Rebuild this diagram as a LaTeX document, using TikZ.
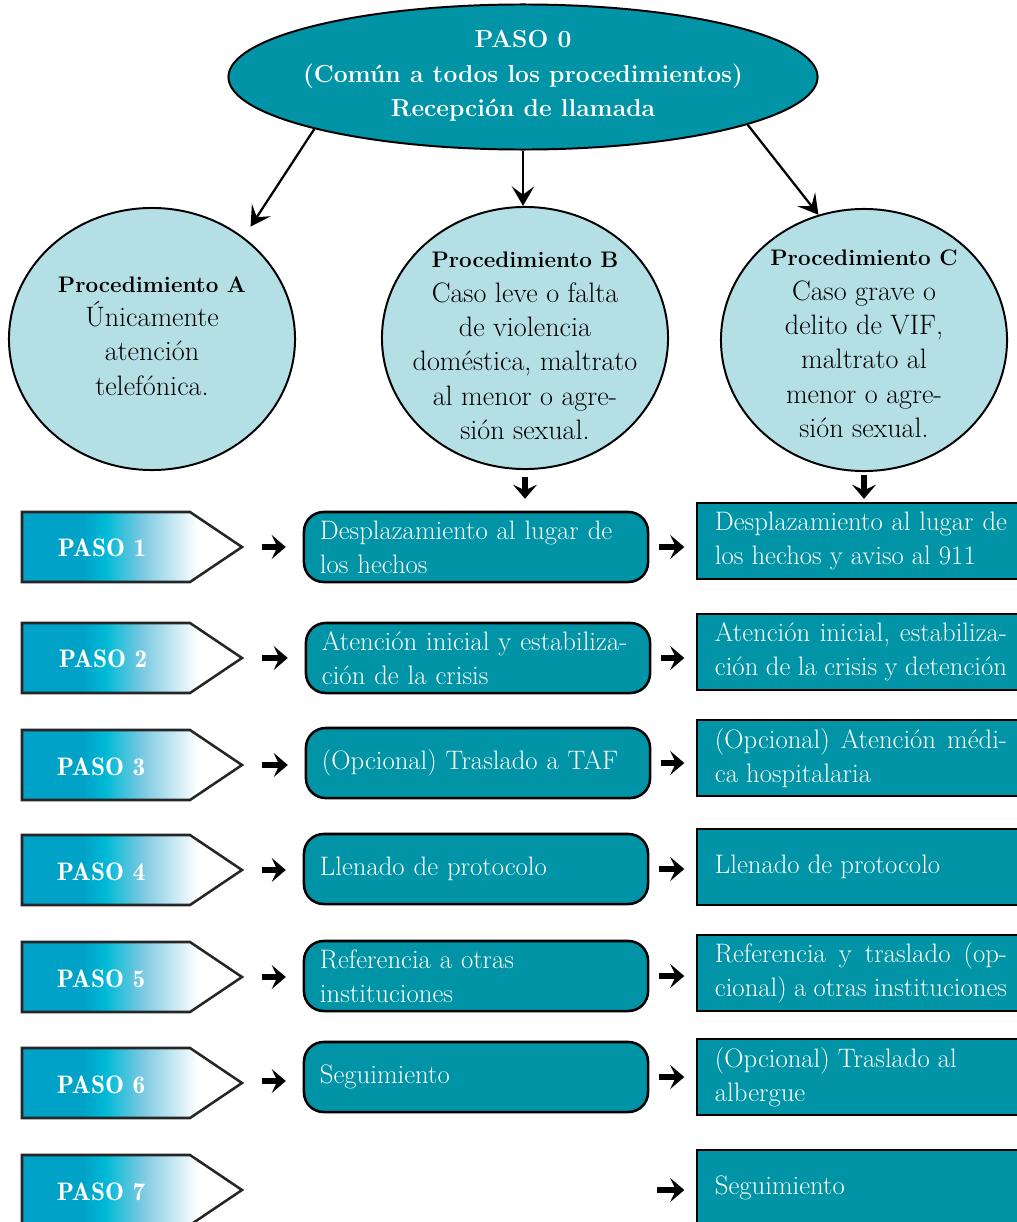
\documentclass[tikz,border=0pt]{standalone}
\usepackage{tikz}
\usetikzlibrary{arrows.meta,calc,shapes.geometric}
\definecolor{tealbox}{RGB}{0,148,166}
\definecolor{lightcirc}{RGB}{179,223,229}
\definecolor{pasodark}{RGB}{0,162,200}
\definecolor{pasomid}{RGB}{0,186,214}
\definecolor{pasolight}{RGB}{120,200,225}
\pgfdeclarehorizontalshading{pasoshade}{100bp}{color(0bp)=(pasodark); color(25bp)=(pasodark); color(39bp)=(pasodark); color(44bp)=(pasomid); color(52bp)=(pasolight); color(65bp)=(white); color(100bp)=(white)}

\begin{document}
\begin{tikzpicture}[x=0.025cm,y=-0.025cm]
\tikzstyle{elipse}=[ellipse,draw=black,line width=1.4pt,fill=tealbox,minimum width=14.725cm,minimum height=3.625cm,inner sep=0pt]
\tikzstyle{elltext}=[align=center,text=white,font=\bfseries\fontsize{17.5}{24.5}\selectfont]
\tikzstyle{circulo}=[ellipse,draw=black,line width=1.4pt,fill=lightcirc,minimum width=7.15cm,minimum height=6.55cm,inner sep=0pt]
\tikzstyle{circtext}=[align=center,font=\fontsize{20}{24.5}\selectfont]
\tikzstyle{caja}=[draw=black,line width=1.8pt,fill=tealbox,rounded corners=14pt,text=white,align=left,text width=7.8cm,minimum height=1.75cm,inner xsep=0.4cm,font=\fontsize{19}{24}\selectfont]
\tikzstyle{cajac}=[draw=black,line width=2pt,fill=tealbox,text=white,align=justify,text width=7.3cm,minimum height=1.9cm,inner xsep=0.45cm,font=\fontsize{19}{24}\selectfont]
\tikzstyle{paso}=[shading=pasoshade,draw=black!85,line width=1.8pt]
\tikzstyle{pasotext}=[text=white,font=\fontseries{b}\fontsize{18}{20}\selectfont]
\tikzstyle{flecha}=[line width=1.6pt,-{Stealth[length=14pt,width=16pt,inset=6pt]}]
\tikzstyle{flechota}=[line width=3.6pt,-{Stealth[length=10pt,width=17pt,inset=4pt]}]
\clip (0,0) rectangle (1017,1222);

% paso 0 y procedimientos
\node[elipse] (ell) at (523,77) {};
\node[elltext] (t0) at (523,76) {PASO 0\\(Común a todos los procedimientos)\\Recepción de llamada};
\node[circulo] (ca) at (152,339) {};
\node[circulo] (cb) at (525,338) {};
\node[circulo] (cc) at (864,340) {};
\node[circtext] (txa) at (152,336) {{\bfseries\fontsize{16}{24.5}\selectfont Procedimiento A}\\Únicamente\\atención\\telefónica.};
\node[circtext] (txb) at (525,346) {{\bfseries\fontsize{16}{24.5}\selectfont Procedimiento B}\\Caso leve o falta\\de violencia\\doméstica, maltrato\\al menor o agre-\\sión sexual.};
\node[circtext] (txc) at (864,344) {{\bfseries\fontsize{16}{24.5}\selectfont Procedimiento C}\\Caso grave o\\delito de VIF,\\maltrato al\\menor o agre-\\sión sexual.};
\draw[flecha, shorten >=9pt] (ell.194) -- (ca.48);
\draw[flecha] (ell.south) -- (ell.south |- cb.north);
\draw[flecha] (ell.-12.5) -- (cc.110);

% pasos
\shade[paso] (22,512) -- (190,512) -- (242,547) -- (190,582) -- (22,582) -- cycle;
\shade[paso] (22,623) -- (190,623) -- (242,658) -- (190,693) -- (22,693) -- cycle;
\shade[paso] (22,730) -- (190,730) -- (242,765) -- (190,800) -- (22,800) -- cycle;
\shade[paso] (22,835) -- (190,835) -- (242,870) -- (190,905) -- (22,905) -- cycle;
\shade[paso] (22,942) -- (190,942) -- (242,977) -- (190,1012) -- (22,1012) -- cycle;
\shade[paso] (22,1048) -- (190,1048) -- (242,1083) -- (190,1118) -- (22,1118) -- cycle;
\shade[paso] (22,1155) -- (190,1155) -- (242,1190) -- (190,1225) -- (22,1225) -- cycle;
\node[pasotext] (p1) at (102,548) {PASO 1};
\node[pasotext] (p2) at (103,659) {PASO 2};
\node[pasotext] (p3) at (101,767) {PASO 3};
\node[pasotext] (p4) at (101,872) {PASO 4};
\node[pasotext] (p5) at (101,979) {PASO 5};
\node[pasotext] (p6) at (101,1085) {PASO 6};
\node[pasotext] (p7) at (101,1192) {PASO 7};
\coordinate (t1) at (242,547);
\coordinate (t2) at (242,658);
\coordinate (t3) at (242,765);
\coordinate (t4) at (242,870);
\coordinate (t5) at (242,977);
\coordinate (t6) at (242,1081);

% procedimiento B
\node[caja] (b1) at (476,547) {Desplazamiento al lugar de\\los hechos};
\node[caja] (b2) at (478,658) {Atención inicial y estabiliza-\\ción de la crisis};
\node[caja] (b3) at (478,763) {(Opcional) Traslado a TAF};
\node[caja] (b4) at (476,869) {Llenado de protocolo};
\node[caja] (b5) at (476,976) {Referencia a otras\\instituciones};
\node[caja] (b6) at (476,1077) {Seguimiento};

% procedimiento C
\node[cajac] (c1) at (861,541) {Desplazamiento al lugar de\linebreak los hechos y aviso al 911};
\node[cajac] (c2) at (861,652) {Atención inicial, estabiliza-\linebreak ción de la crisis y detención};
\node[cajac] (c3) at (861,758) {(Opcional) Atención médi-\linebreak ca hospitalaria};
\node[cajac] (c4) at (861,867) {Llenado de protocolo};
\node[cajac] (c5) at (861,973) {Referencia y traslado (op-\linebreak cional) a otras instituciones};
\node[cajac] (c6) at (861,1077) {(Opcional) Traslado al\newline albergue};
\node[cajac] (c7) at (861,1188) {Seguimiento};
\coordinate (a7) at (657,1190);

% flechas
\draw[flechota, shorten <=5pt, shorten >=8.5pt] (cb.south) -- (cb.south |- b1.north);
\draw[flechota, shorten <=2pt, shorten >=2pt] (cc.south) -- (cc.south |- c1.north);
\draw[flechota, shorten <=14pt, shorten >=12pt] (t1) -- (t1 -| b1.west);
\draw[flechota, shorten <=14pt, shorten >=12pt] (t2) -- (t2 -| b2.west);
\draw[flechota, shorten <=14pt, shorten >=12pt] (t3) -- (t3 -| b3.west);
\draw[flechota, shorten <=14pt, shorten >=12pt] (t4) -- (t4 -| b4.west);
\draw[flechota, shorten <=14pt, shorten >=12pt] (t5) -- (t5 -| b5.west);
\draw[flechota, shorten <=14pt, shorten >=12pt] (t6) -- (t6 -| b6.west);
\draw[flechota, shorten <=7pt, shorten >=8pt] (b1.east) -- (b1.east -| c1.west);
\draw[flechota, shorten <=7pt, shorten >=8pt] (b2.east) -- (b2.east -| c2.west);
\draw[flechota, shorten <=7pt, shorten >=8pt] (b3.east) -- (b3.east -| c3.west);
\draw[flechota, shorten <=7pt, shorten >=8pt] (b4.east) -- (b4.east -| c4.west);
\draw[flechota, shorten <=7pt, shorten >=8pt] (b5.east) -- (b5.east -| c5.west);
\draw[flechota, shorten <=7pt, shorten >=8pt] (b6.east) -- (b6.east -| c6.west);
\draw[flechota, shorten >=8pt] (a7) -- (a7 -| c7.west);
\end{tikzpicture}
\end{document}
